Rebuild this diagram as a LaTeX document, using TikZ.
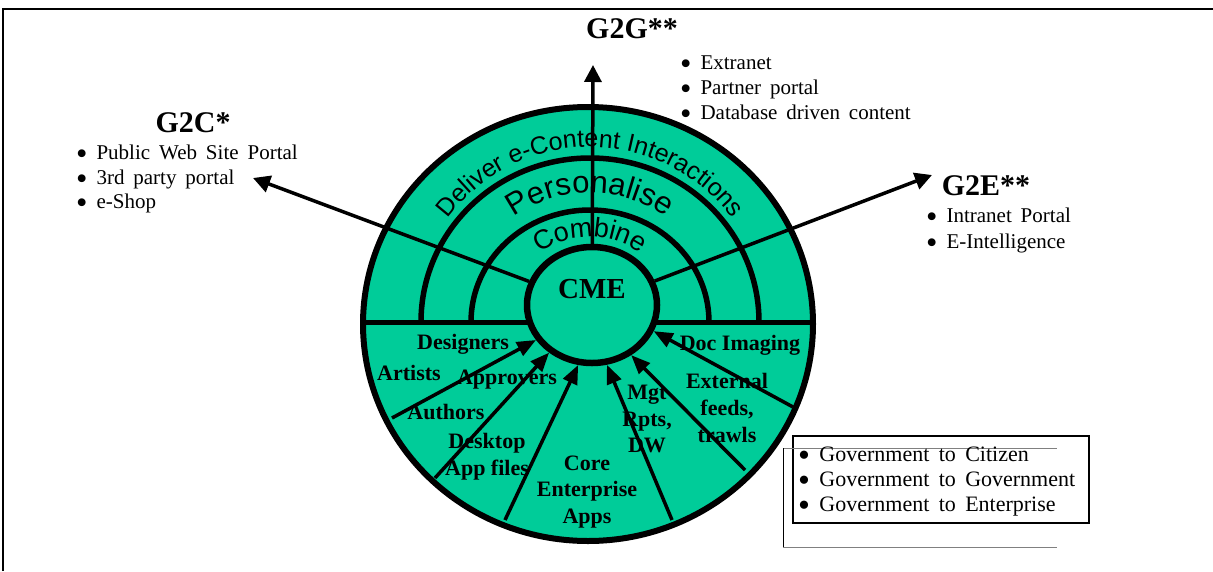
\documentclass[tikz,border=0pt]{standalone}
\usepackage{fontspec}
\setmainfont{Liberation Serif}
\newfontfamily\arialf{Liberation Sans}
\newfontfamily\listf[WordSpace=1.7]{Liberation Serif}
\newcommand\bigbul{\raisebox{-0.25em}{\scalebox{1.55}{\textbullet}}}
\usetikzlibrary{arrows.meta,decorations.text,shapes.geometric}
\definecolor{cmegreen}{HTML}{00CC99}
\begin{document}
\begin{tikzpicture}[x=1pt,y=1pt,
  ringline/.style={line width=5.5pt},
  outarrow/.style={line width=3.5pt,-{Triangle[length=17pt,width=17pt]}},
  inarrow/.style={line width=3.5pt,-{Triangle[length=19pt,width=15pt]}},
  seclabel/.style={font=\bfseries\fontsize{22}{26.7}\selectfont,align=center,inner sep=0pt},
  titlelabel/.style={font=\bfseries\fontsize{30}{30}\selectfont,anchor=base,inner sep=0pt},
  listitem/.style={font=\listf\fontsize{21}{25}\selectfont,anchor=base west,inner sep=0pt},
  legitem/.style={font=\listf\fontsize{22}{25}\selectfont,anchor=base west,inner sep=0pt},
  arctext/.style={decorate,decoration={text along path,text align=center,text={#1}}}]
\useasboundingbox (0,0) rectangle (1213,-571);

% frame
\draw[line width=2pt] (3,-571) -- (3,-9) -- (1213,-9);

% disc and rings
\filldraw[fill=cmegreen,line width=6pt] (588,-324) ellipse [x radius=225,y radius=217];
\draw[line width=5pt] (363,-322) -- (813,-322);
\draw[ringline] (421,-322) arc[start angle=180,end angle=0,x radius=169,y radius=164];
\draw[ringline] (471,-322) arc[start angle=180,end angle=0,x radius=119,y radius=112];

% curved texts
\path[arctext={|\arialf\fontsize{25}{25}\selectfont|Deliver e-Content Interactions}]
  (590-177,-324) arc[start angle=180,end angle=0,radius=177];
\path[arctext={|\arialf\fontsize{31}{31}\selectfont|Personalise}]
  (590-131,-324) arc[start angle=180,end angle=0,radius=131];
\path[arctext={|\arialf\fontsize{27}{27}\selectfont|Combine}]
  (590-87,-324) arc[start angle=180,end angle=0,radius=87];

% sector labels
\node[seclabel] (designers) at (463,-344) {Designers};
\node[seclabel] (artists) at (409,-373) {Artists};
\node[seclabel] (approvers) at (507,-380) {Approvers};
\node[seclabel] (authors) at (446,-412) {Authors};
\node[seclabel] (desktop) at (487,-457) {Desktop\\App files};
\node[seclabel] (core) at (587,-492) {Core\\Enterprise\\Apps};
\node[seclabel] (mgt) at (647,-419) {Mgt\\Rpts,\\DW};
\node[seclabel] (docimg) at (740,-345) {Doc Imaging};
\node[seclabel] (external) at (727,-408) {External\\feeds,\\trawls};

% CME hub
\node[ellipse,draw,line width=6.5pt,fill=cmegreen,minimum width=130pt,minimum height=116pt,inner sep=0pt] (cme) at (592,-305) {};
\node[font=\bfseries\fontsize{29}{29}\selectfont,anchor=base,inner sep=0pt] (cmetxt) at (592,-298) {CME};

% outward arrows
\coordinate (g2gtip) at (593,-65);
\coordinate (g2ctip) at (253,-178);
\coordinate (g2etip) at (932,-175);
\draw[outarrow] (cme) -- (g2gtip);
\draw[outarrow] (cme) -- (g2ctip);
\draw[outarrow] (cme) -- (g2etip);

% inward arrows
\coordinate (b1) at (392,-418);
\coordinate (b2) at (435,-478);
\coordinate (b3) at (505,-520);
\coordinate (b4) at (672,-520);
\coordinate (b5) at (745,-470);
\coordinate (b6) at (793,-407);
\draw[inarrow] (b1) -- (cme.212);
\draw[inarrow] (b2) -- (cme.228);
\draw[inarrow] (b3) -- (cme.257);
\draw[inarrow] (b4) -- (cme.284);
\draw[inarrow] (b5) -- (cme.308);
\draw[inarrow] (b6) -- (cme.337);

% titles
\node[titlelabel] (g2g) at (632,-38) {G2G**};
\node[titlelabel] (g2c) at (193,-132) {G2C*};
\node[titlelabel] (g2e) at (986,-195) {G2E**};

% lists
\node[listitem] (g2g1) at (680,-69) {\bigbul\ Extranet};
\node[listitem] (g2g2) at (680,-94) {\bigbul\ Partner portal};
\node[listitem] (g2g3) at (680,-119) {\bigbul\ Database driven content};
\node[listitem] (g2c1) at (76,-159) {\bigbul\ Public Web Site Portal};
\node[listitem] (g2c2) at (76,-184) {\bigbul\ 3rd party portal};
\node[listitem] (g2c3) at (76,-208) {\bigbul\ e-Shop};
\node[listitem] (g2e1) at (926,-222) {\bigbul\ Intranet Portal};
\node[listitem] (g2e2) at (926,-248) {\bigbul\ E-Intelligence};

% legend
\node[draw,line width=2.6pt,minimum width=296pt,minimum height=87pt,inner sep=0pt] (legbox) at (941,-479.5) {};
\draw[gray,line width=1pt] (783,-448) -- (1057,-448);
\draw[line width=1pt] (783,-448) -- (783,-547);
\draw[gray,line width=1pt] (783,-547) -- (1057,-547);
\node[legitem] (leg1) at (798,-461) {\bigbul\ Government to Citizen};
\node[legitem] (leg2) at (798,-486) {\bigbul\ Government to Government};
\node[legitem] (leg3) at (798,-511) {\bigbul\ Government to Enterprise};
\end{tikzpicture}
\end{document}
